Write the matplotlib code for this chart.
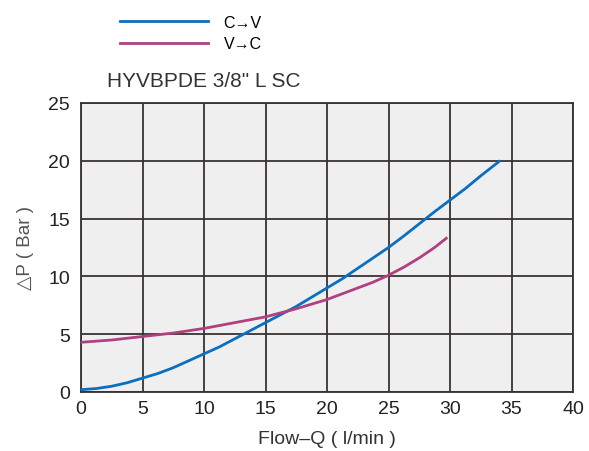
import matplotlib
matplotlib.use("Agg")
import matplotlib.pyplot as plt

plt.rcParams['font.family'] = ['Liberation Sans', 'DejaVu Sans']

# C->V pressure drop curve
cv_flow = [0, 1.25, 2.5, 3.75, 5, 6.25, 7.5, 8.75, 10, 11.25, 12.5, 13.75, 15,
           16.25, 17.5, 18.75, 20, 21.25, 22.5, 23.75, 25, 26.25, 27.5, 28.75,
           30, 31.25, 32.5, 34]
cv_dp = [0.2, 0.3, 0.5, 0.8, 1.2, 1.6, 2.1, 2.7, 3.3, 3.9, 4.6, 5.3, 6.0,
         6.7, 7.4, 8.2, 9.0, 9.8, 10.7, 11.6, 12.5, 13.5, 14.55, 15.6,
         16.6, 17.6, 18.7, 19.95]

# V->C pressure drop curve
vc_flow = [0, 2.5, 5, 7.5, 10, 12.5, 15, 16.25, 17.5, 18.75, 20, 21.25, 22.5,
           23.75, 25, 26.25, 27.5, 28.75, 29.7]
vc_dp = [4.3, 4.5, 4.8, 5.1, 5.5, 6.0, 6.5, 6.85, 7.2, 7.6, 8.0, 8.5, 9.0,
         9.5, 10.1, 10.8, 11.6, 12.5, 13.3]

x_ticks = [0, 5, 10, 15, 20, 25, 30, 35, 40]
y_ticks = [0, 5, 10, 15, 20, 25]

fig = plt.figure(figsize=(5.89, 4.52), dpi=100)
ax = fig.add_axes([81 / 589, 1 - 393 / 452, 492 / 589, 289 / 452])
ax.set_facecolor('#efefef')

l1, = ax.plot(cv_flow, cv_dp, color='#0a6fc0', lw=2, label='C→V', zorder=3)
l2, = ax.plot(vc_flow, vc_dp, color='#b0407f', lw=2, label='V→C', zorder=3)

ax.set_xlim(0, 40)
ax.set_ylim(0, 25)
ax.set_xticks(x_ticks)
ax.set_yticks(y_ticks)
ax.grid(True, color='#3a3232', lw=1.3)
ax.tick_params(length=0, labelsize=14, colors='#222222')
ax.tick_params(axis='y', pad=8)
ax.tick_params(axis='x', pad=6)
for s in ax.spines.values():
    s.set_color('#3a3232')
    s.set_linewidth(1.3)

ax.set_xlabel('Flow–Q ( l/min )', fontsize=14, color='#333333', labelpad=9)
ax.set_ylabel('△P ( Bar )', fontsize=13.5, color='#555555', labelpad=10)

fig.legend(handles=[l1, l2], loc='upper left', bbox_to_anchor=(107 / 589, 1 - 3 / 452),
           frameon=False, fontsize=11.5, handlelength=5.5, handletextpad=1.0,
           labelspacing=0.4, borderpad=0.3)

fig.text(107 / 589, 1 - 87 / 452, 'HYVBPDE 3/8" L SC', fontsize=15,
         color='#333333', va='baseline', ha='left')

fig.savefig('out.png', dpi=100)
